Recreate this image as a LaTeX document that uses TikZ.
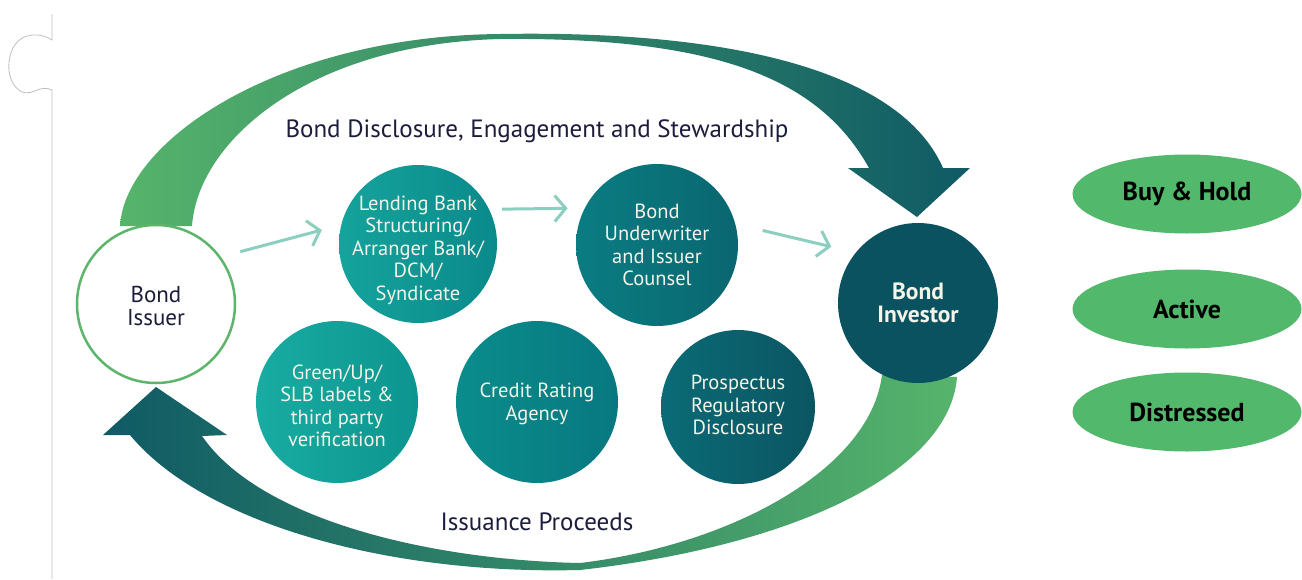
\documentclass[tikz,border=0pt]{standalone}
\usepackage{fontspec}
\setmainfont{PT Sans}
\usetikzlibrary{arrows.meta,shapes.geometric}
\definecolor{ringgreen}{HTML}{5CB56B}
\definecolor{investorc}{HTML}{0B5260}
\definecolor{lendL}{HTML}{15A39C}
\definecolor{lendR}{HTML}{0A8A8B}
\definecolor{undL}{HTML}{0A7D82}
\definecolor{undR}{HTML}{0A6670}
\definecolor{grnL}{HTML}{18ACA2}
\definecolor{grnR}{HTML}{0D9590}
\definecolor{crdL}{HTML}{0A8C8C}
\definecolor{crdR}{HTML}{087880}
\definecolor{proL}{HTML}{0A6B76}
\definecolor{proR}{HTML}{0B5562}
\definecolor{mint}{HTML}{8CCFC0}
\definecolor{pill}{HTML}{52B86C}
\definecolor{arcgreen}{HTML}{56B46B}
\definecolor{arcteal}{HTML}{0F5A65}
\definecolor{darktext}{HTML}{1C1C3C}
\definecolor{lighttext}{HTML}{F4F4E8}
\begin{document}
\begin{tikzpicture}[x=1pt,y=-1pt,
  disc/.style={circle, minimum size=160, inner sep=0, draw=none},
  ctext/.style={align=center, text=lighttext, font=\fontsize{20.5}{22.5}\selectfont, inner sep=0},
  pillnode/.style={ellipse, fill=pill, minimum width=229, minimum height=79, inner sep=0,
     font=\fontsize{26}{28}\selectfont\bfseries, text=black},
  flow/.style={draw=mint, line width=3, -{Straight Barb[length=11pt,width=26pt,line width=3pt]}},
  caption/.style={font=\fontsize{25}{28}\selectfont, text=darktext, inner sep=0}
]
\useasboundingbox (0,0) rectangle (1302,579);
\fill[white] (0,0) rectangle (1302,579);

% screenshot edge
\draw[black!25, line width=0.8] (52,14) -- (52,40)
  .. controls (42,33) and (22,31) .. (13,48)
  .. controls (6,62) and (7,84) .. (22,92)
  .. controls (33,96) and (40,84) .. (52,90) -- (52,579);

% top big arrow
\shade[left color=arcgreen, right color=arcteal]
  (120,226) .. controls (125,140) and (280,36) .. (500,34)
  .. controls (730,30) and (900,70) .. (943,168)
  -- (970,168) -- (917,217) -- (848,168) -- (869,168)
  .. controls (820,80) and (720,37) .. (500,39)
  .. controls (310,44) and (198,140) .. (192,226) -- cycle;

% bottom big arrow
\shade[left color=arcteal, right color=arcgreen]
  (957,377) .. controls (950,470) and (800,545) .. (580,570)
  .. controls (380,575) and (200,520) .. (130,435)
  -- (103,435) -- (156,387) -- (227,435) -- (202,436)
  .. controls (260,520) and (430,560) .. (580,563)
  .. controls (730,545) and (870,470) .. (882,375) -- cycle;

% nodes
\node[disc, fill=white, draw=ringgreen, line width=2.5, minimum size=158] (issuer) at (156,304) {};
\node[disc, fill=investorc] (investor) at (918,303) {};
\node[disc, left color=lendL, right color=lendR, minimum size=158] (lend) at (418,244) {};
\node[disc, left color=undL, right color=undR, minimum size=162] (under) at (657,245) {};
\node[disc, left color=grnL, right color=grnR, minimum size=162] (green) at (337,402) {};
\node[disc, left color=crdL, right color=crdR, minimum size=162] (credit) at (537,402) {};
\node[disc, left color=proL, right color=proR, minimum size=154] (prosp) at (738,407) {};

\node[ctext, text=darktext, font=\fontsize{23}{23}\selectfont] (issuertxt) at ([yshift=-2pt]issuer.center) {Bond\\Issuer};
\node[ctext, font=\fontsize{23.5}{23}\selectfont\bfseries] (investortxt) at (investor.center) {Bond\\Investor};
\node[ctext] (lendtxt) at ([yshift=-6pt]lend.center) {Lending Bank\\Structuring/\\Arranger Bank/\\DCM/\\Syndicate};
\node[ctext] (undertxt) at (under.center) {Bond\\Underwriter\\and Issuer\\Counsel};
\node[ctext] (greentxt) at ([yshift=-4pt]green.center) {Green/Up/\\SLB labels \&\\third party\\verification};
\node[ctext] (credittxt) at ([yshift=-2pt]credit.center) {Credit Rating\\Agency};
\node[ctext] (prosptxt) at ([yshift=2pt]prosp.center) {Prospectus\\Regulatory\\Disclosure};

% flow arrows
\draw[flow, shorten <=20pt, shorten >=20pt] (issuer.36) -- (lend.166);
\draw[flow, shorten <=13pt, shorten >=17pt] (lend.26) -- (under.153);
\draw[flow, shorten <=28pt, shorten >=25pt] (under.15) -- (investor.141);

% captions
\node[caption] (top) at (537,131) {Bond Disclosure, Engagement and Stewardship};
\node[caption] (bottom) at (537,522) {Issuance Proceeds};

% investor styles
\node[pillnode] (buy) at (1187,194) {Buy \& Hold};
\node[pillnode] (active) at (1187,309) {Active};
\node[pillnode] (distressed) at (1187,412) {Distressed};
\end{tikzpicture}
\end{document}
